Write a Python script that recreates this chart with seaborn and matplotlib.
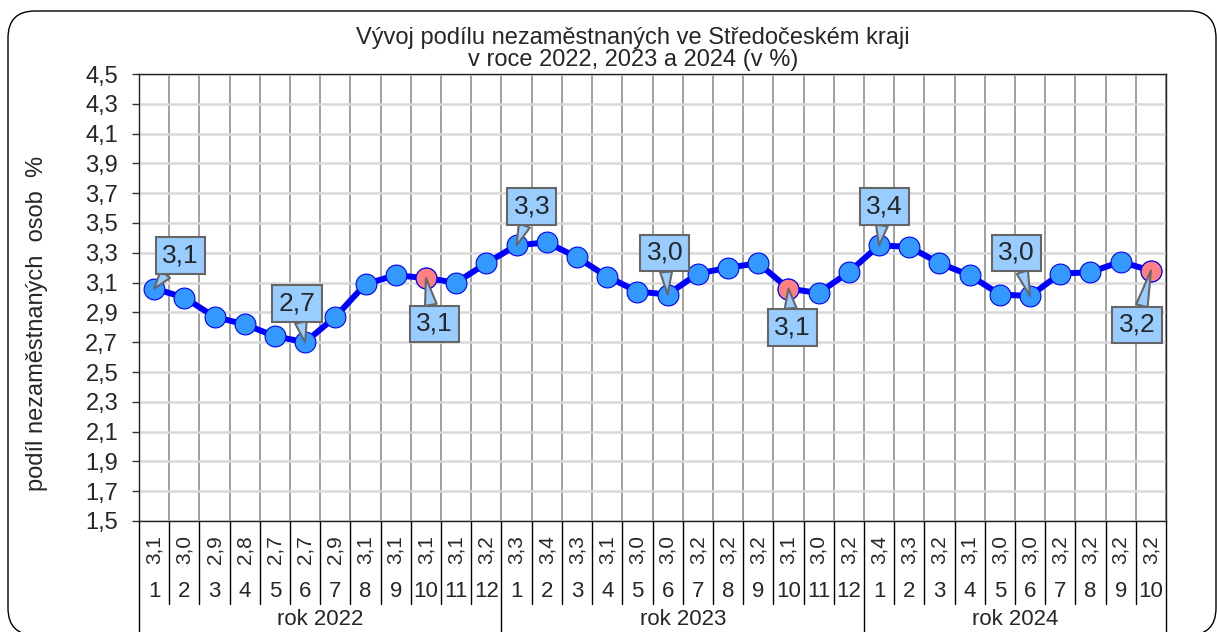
import numpy as np
import pandas as pd
import matplotlib
matplotlib.use("Agg")
import matplotlib.pyplot as plt
import seaborn as sns
from matplotlib.patches import FancyBboxPatch
from matplotlib.transforms import blended_transform_factory

# data
years = ["rok 2022", "rok 2023", "rok 2024"]
months_per_year = [12, 12, 10]
months = list(range(1, 13)) + list(range(1, 13)) + list(range(1, 11))
values = [
    3.06, 3.00, 2.87, 2.82, 2.74, 2.70, 2.87, 3.09, 3.15, 3.13, 3.10, 3.23,
    3.35, 3.37, 3.27, 3.14, 3.04, 3.02, 3.16, 3.20, 3.23, 3.06, 3.03, 3.17,
    3.35, 3.34, 3.23, 3.15, 3.02, 3.01, 3.16, 3.17, 3.24, 3.18,
]
table_values = [
    "3,1", "3,0", "2,9", "2,8", "2,7", "2,7", "2,9", "3,1", "3,1", "3,1", "3,1", "3,2",
    "3,3", "3,4", "3,3", "3,1", "3,0", "3,0", "3,2", "3,2", "3,2", "3,1", "3,0", "3,2",
    "3,4", "3,3", "3,2", "3,1", "3,0", "3,0", "3,2", "3,2", "3,2", "3,2",
]
highlight_idx = [9, 21, 33]
callout_idx = [0, 5, 9, 12, 17, 21, 24, 29, 33]

df = pd.DataFrame({"idx": range(len(values)), "value": values})
hl = df.loc[highlight_idx]

sns.set_theme(style="white")
plt.rcParams["font.family"] = ["Liberation Sans", "DejaVu Sans"]

fig = plt.figure(figsize=(12.17, 6.32), dpi=100)
ax = fig.add_axes([139 / 1217, 1 - 521 / 632, 1027 / 1217, 447 / 632])

sns.lineplot(data=df, x="idx", y="value", ax=ax, color="#0000FF", lw=4.3,
             marker="o", markersize=15, markerfacecolor="#3399FF",
             markeredgecolor="#0000FF", markeredgewidth=0.8, zorder=3)
sns.scatterplot(data=hl, x="idx", y="value", ax=ax, color="#FF8080",
                edgecolor="#0000FF", linewidth=0.8, s=225, zorder=4)

# callout offsets in points (box centre relative to the point)
offsets = [(19, 24), (-6, 28), (6, -33), (11, 28), (-2, 30),
           (3, -28), (4, 28), (-10, 31), (-10, -39)]
for i, off in zip(callout_idx, offsets):
    ax.annotate(table_values[i], xy=(i, values[i]), xytext=off,
                textcoords="offset points", ha="center", va="center",
                fontsize=19, zorder=6,
                bbox=dict(boxstyle="square,pad=0.24", fc="#99CCFF",
                          ec="#666666", lw=1.5),
                arrowprops=dict(arrowstyle="wedge,tail_width=0.45,shrink_factor=0.5",
                                fc="#99CCFF", ec="#666666", lw=1.5,
                                shrinkA=0, shrinkB=0))

ax.set_xlim(-0.5, len(values) - 0.5)
ax.set_ylim(1.5, 4.5)
yt = np.round(np.arange(1.5, 4.51, 0.2), 1)
ax.set_yticks(yt)
ax.set_yticklabels([f"{v:.1f}".replace(".", ",") for v in yt], fontsize=17)
ax.set_xticks(np.arange(-0.5, len(values), 1))
ax.set_xticklabels([])
ax.tick_params(axis="y", left=True, length=5, width=1, color="#333333", pad=10)
ax.tick_params(axis="x", bottom=False)
ax.xaxis.grid(True, color="#999999", lw=1.3)
ax.yaxis.grid(True, color="#D9D9D9", lw=1.8)
ax.set_axisbelow(True)
ax.set_xlabel("")
ax.set_ylabel("")
for s in ax.spines.values():
    s.set_color("#222222")
    s.set_linewidth(1.0)

# table under the plot
tr = blended_transform_factory(ax.transData, ax.transAxes)
year_edges = np.cumsum([0] + months_per_year)
for k in range(len(values) + 1):
    bottom = -0.30 if k in year_edges else -0.186
    ax.plot([k - 0.5, k - 0.5], [0, bottom], transform=tr, color="black",
            lw=1.0, clip_on=False)
for i in range(len(values)):
    ax.text(i, -0.063, table_values[i], transform=tr, rotation=90,
            ha="center", va="center", fontsize=15)
    ax.text(i, -0.157, str(months[i]), transform=tr,
            ha="center", va="center", fontsize=16)
for y, a, b in zip(years, year_edges[:-1], year_edges[1:]):
    ax.text((a + b - 1) / 2, -0.232, y, transform=tr, ha="center",
            va="baseline", fontsize=16)

fig.text(633 / 1217, 1 - 49 / 632,
         "Vývoj podílu nezaměstnaných ve Středočeském kraji\nv roce 2022, 2023 a 2024 (v %)",
         ha="center", va="center", fontsize=17, linespacing=1.05)
fig.text(37.5 / 1217, 1 - 323 / 632, "podíl nezaměstnaných  osob  %",
         rotation=90, ha="center", va="center", fontsize=17)

frame = FancyBboxPatch((0.08, -0.03), 12.08, 6.24,
                       boxstyle="round,pad=0,rounding_size=0.27",
                       transform=fig.dpi_scale_trans, fill=False,
                       ec="black", lw=1.0)
fig.add_artist(frame)

fig.savefig("out.png", dpi=100)
